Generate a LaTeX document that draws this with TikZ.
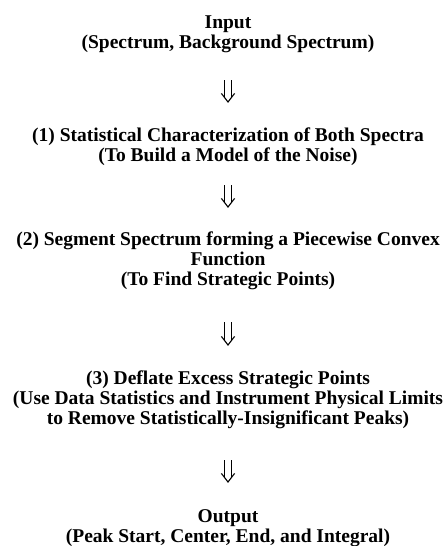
\documentclass[tikz,border=0pt]{standalone}
\usepackage{fontspec}
\setmainfont{Liberation Serif}
\tikzset{
  blk/.style={anchor=base, align=center, inner sep=0pt,
    font=\bfseries\fontsize{19.5}{20}\selectfont},
  dstem/.style={line width=1.1pt, line cap=butt},
  dhead/.style={line width=1.1pt, line join=miter}
}
\newcommand{\dblarrow}[2]{%
  \draw[dstem] ([xshift=-3.6pt]#1) -- ([xshift=-3.6pt,yshift=4.8pt]#2);
  \draw[dstem] ([xshift=3.6pt]#1) -- ([xshift=3.6pt,yshift=4.8pt]#2);
  \draw[dhead] ([xshift=-6.6pt,yshift=8.6pt]#2) -- (#2) -- ([xshift=6.6pt,yshift=8.6pt]#2);
}
\begin{document}
\begin{tikzpicture}[x=1pt,y=-1pt]
\useasboundingbox[fill=white] (0,0) rectangle (445,546);
% anchor=base of a multi-line node is the baseline of its last line
\node[blk] (in) at (228,48) {Input\\(Spectrum, Background Spectrum)};
\node[blk] (s1) at (228,161) {(1) Statistical Characterization of Both Spectra\\(To Build a Model of the Noise)};
\node[blk] (s2) at (228,285) {(2) Segment Spectrum forming a Piecewise Convex\\Function\\(To Find Strategic Points)};
\node[blk] (s3) at (228,424) {(3) Deflate Excess Strategic Points\\(Use Data Statistics and Instrument Physical Limits\\to Remove Statistically-Insignificant Peaks)};
\node[blk] (out) at (228,542) {Output\\(Peak Start, Center, End, and Integral)};
\coordinate (a1t) at (228,80);  \coordinate (a1b) at (228,102);
\coordinate (a2t) at (228,185); \coordinate (a2b) at (228,207);
\coordinate (a3t) at (228,322); \coordinate (a3b) at (228,345);
\coordinate (a4t) at (228,460); \coordinate (a4b) at (228,482);
\dblarrow{a1t}{a1b}
\dblarrow{a2t}{a2b}
\dblarrow{a3t}{a3b}
\dblarrow{a4t}{a4b}
\end{tikzpicture}
\end{document}
